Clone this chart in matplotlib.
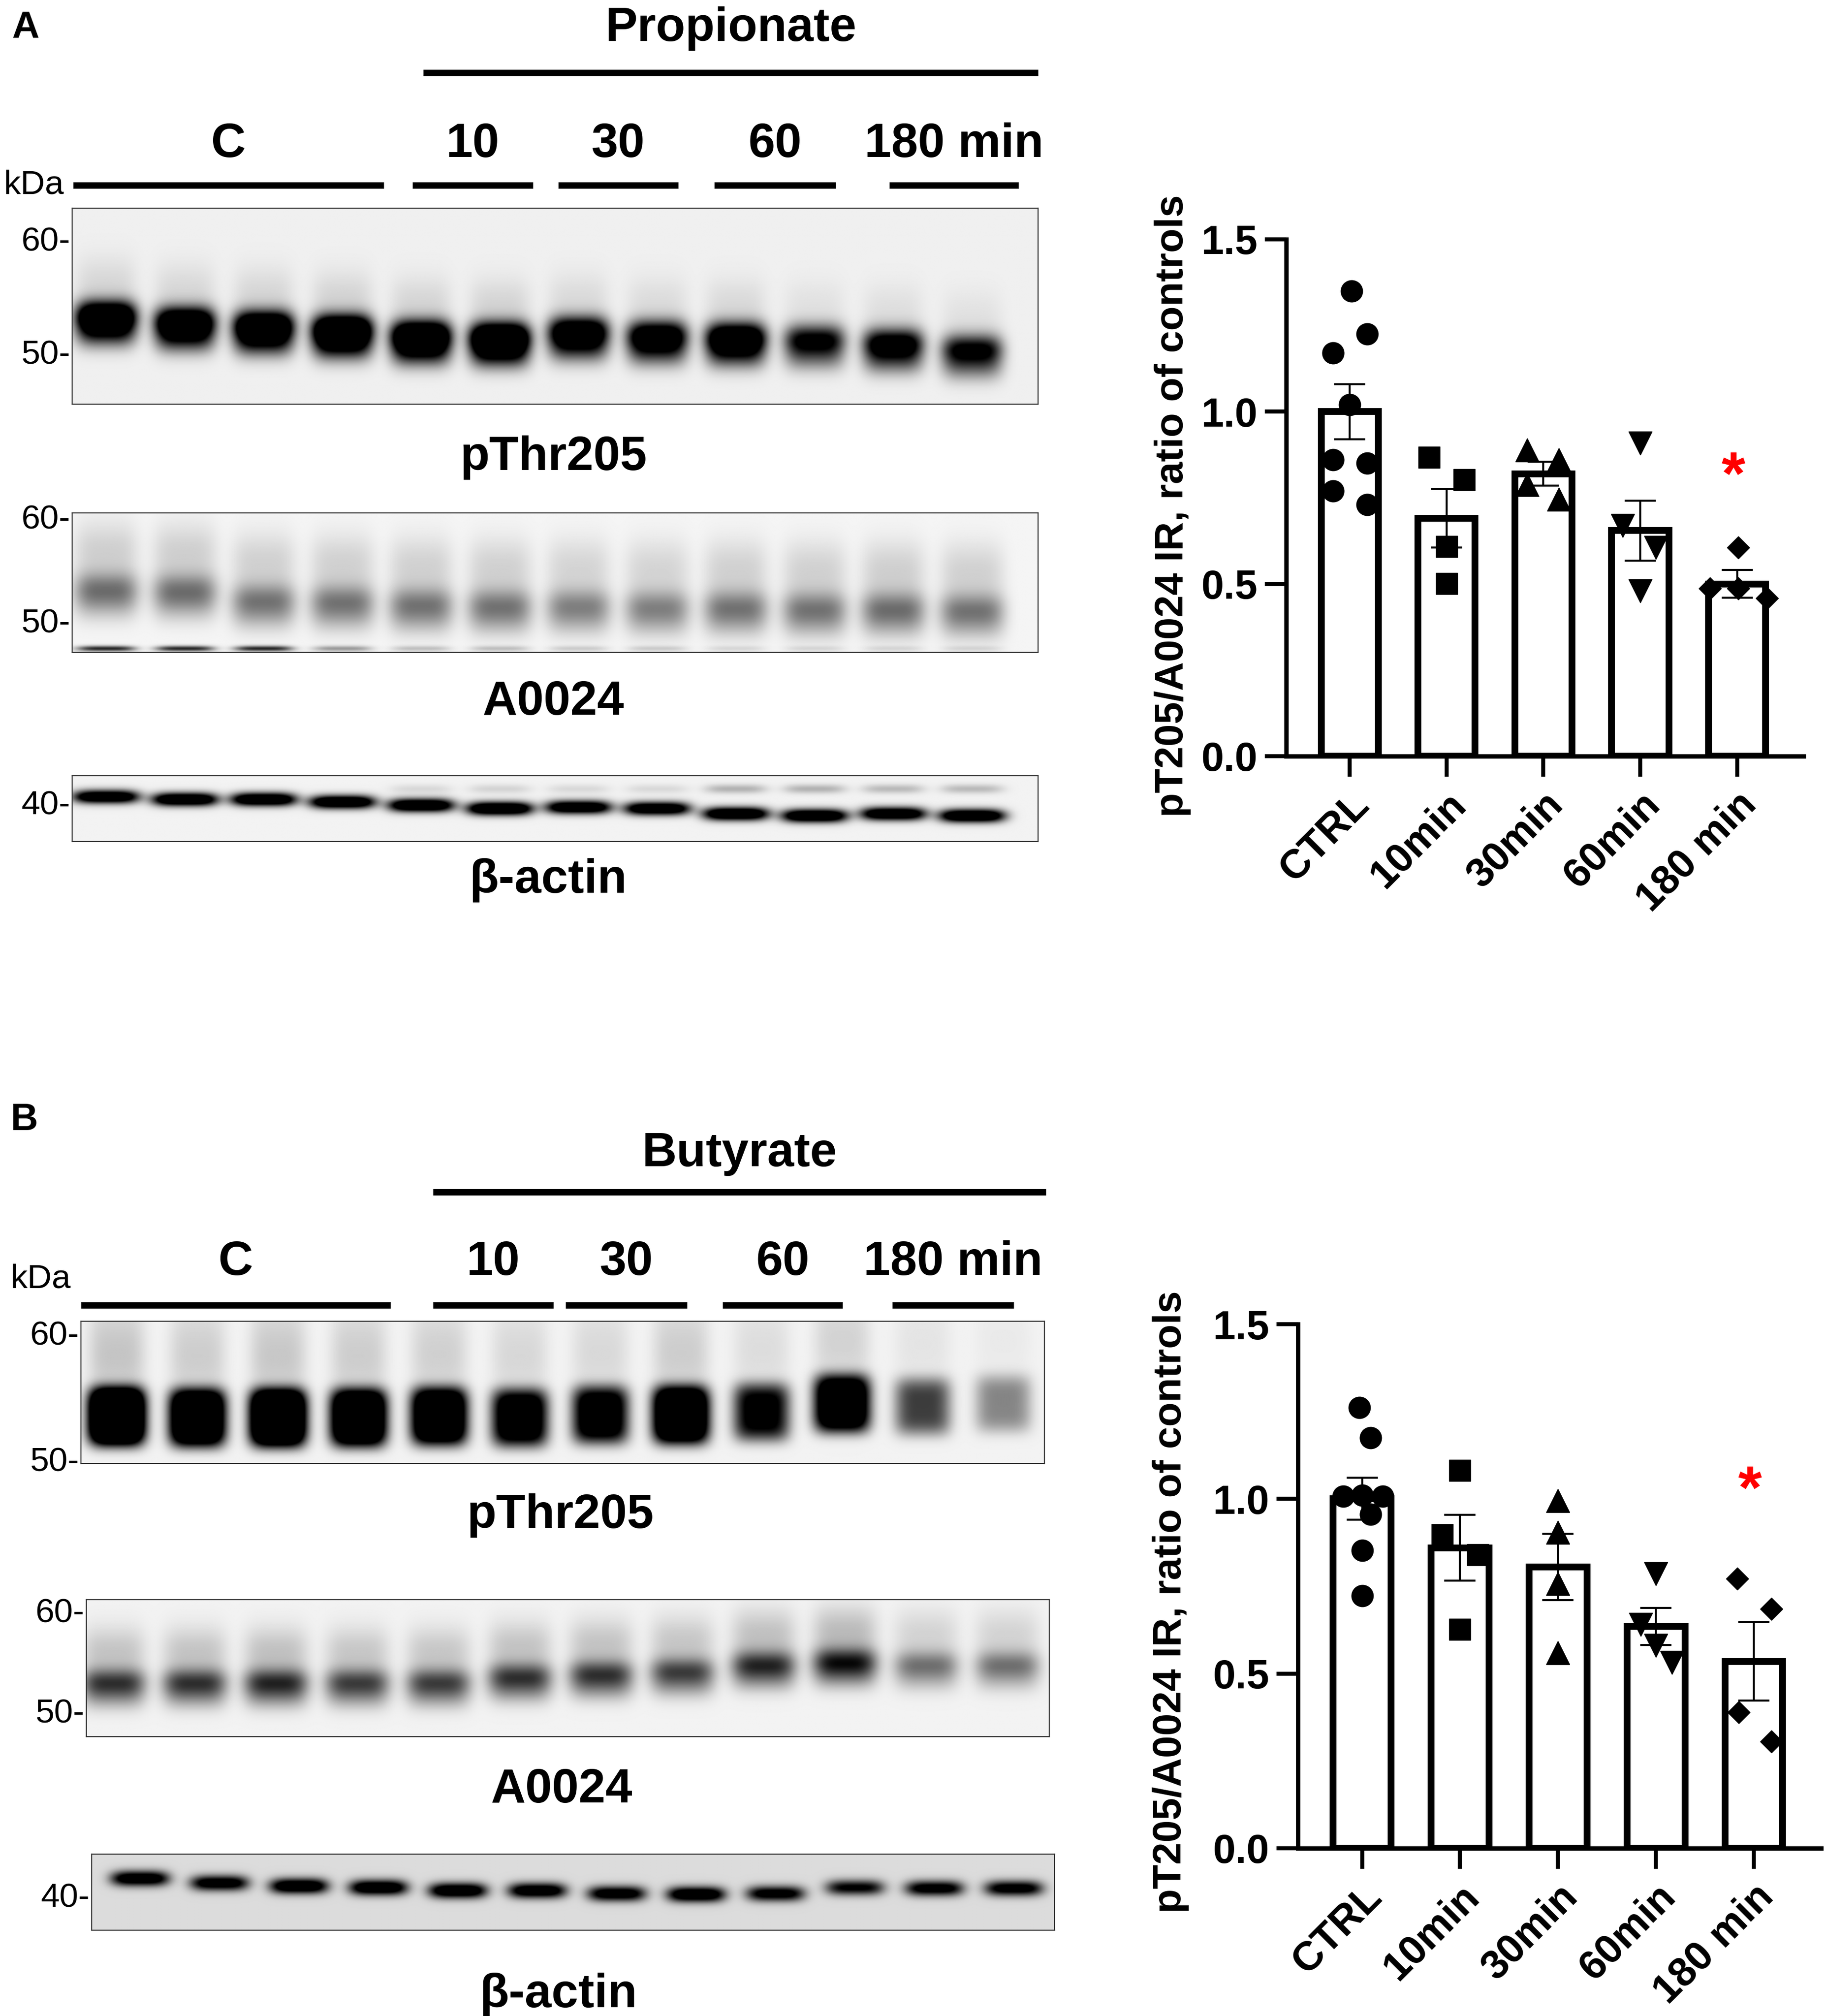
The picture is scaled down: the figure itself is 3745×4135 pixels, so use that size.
import numpy as np
import matplotlib.pyplot as plt
from matplotlib.transforms import ScaledTranslation

plt.rcParams['font.family'] = ['Liberation Sans', 'DejaVu Sans']

W, H = 3745, 4135

# ---- bar chart values (ratio of controls) ----
groups = ['CTRL', '10min', '30min', '60min', '180 min']

prop_mean = [1.0, 0.69, 0.82, 0.655, 0.50]
prop_sem = [0.08, 0.085, 0.035, 0.087, 0.04]
prop_pts = [[1.35, 1.225, 1.17, 1.02, 0.86, 0.85, 0.77, 0.73],
            [0.868, 0.803, 0.609, 0.501],
            [0.889, 0.861, 0.788, 0.746],
            [0.908, 0.669, 0.606, 0.48],
            [0.606, 0.487, 0.487, 0.459]]
prop_jit = [[0.02, 0.18, -0.17, 0.0, -0.17, 0.18, -0.17, 0.18],
            [-0.18, 0.18, 0.0, 0.0],
            [-0.17, 0.16, -0.17, 0.16],
            [0.0, -0.18, 0.16, 0.0],
            [0.01, -0.28, 0.01, 0.31]]
prop_star = 0.837

but_mean = [1.0, 0.86, 0.805, 0.635, 0.535]
but_sem = [0.06, 0.094, 0.095, 0.053, 0.112]
but_pts = [[1.262, 1.175, 1.008, 1.01, 1.008, 0.956, 0.853, 0.723],
           [1.082, 0.897, 0.84, 0.627],
           [0.995, 0.904, 0.758, 0.559],
           [0.785, 0.64, 0.58, 0.532],
           [0.771, 0.685, 0.39, 0.305]]
but_jit = [[-0.03, 0.085, -0.19, 0.0, 0.21, 0.085, 0.0, 0.0],
           [0.0, -0.18, 0.18, 0.0],
           [0.0, 0.0, 0.0, 0.0],
           [0.0, -0.155, 0.0, 0.165],
           [-0.17, 0.18, -0.155, 0.18]]
but_star = 1.048

# ---- western blot lanes (band strength and band centre, fraction of box from top) ----
lane_groups = ['C', '10', '30', '60', '180 min']

a_pthr_amp = [1.0, 0.95, 1.0, 1.1, 1.05, 1.1, 0.85, 0.8, 0.9, 0.6, 0.7, 0.6]
a_pthr_pos = [0.55, 0.58, 0.60, 0.62, 0.65, 0.66, 0.63, 0.65, 0.66, 0.67, 0.69, 0.72]
a_a0024_amp = [0.42, 0.42, 0.4, 0.4, 0.4, 0.4, 0.36, 0.36, 0.4, 0.4, 0.42, 0.4]
a_a0024_pos = [0.54, 0.55, 0.62, 0.63, 0.65, 0.66, 0.66, 0.67, 0.67, 0.68, 0.68, 0.69]
a_a0024_low = [0.8, 0.8, 0.8, 0.35, 0.2, 0.2, 0.15, 0.15, 0.1, 0.1, 0.1, 0.1]
a_actin_amp = [0.95, 1.0, 1.0, 1.0, 1.0, 1.05, 0.95, 0.95, 1.0, 1.0, 0.95, 1.0]
a_actin_pos = [0.32, 0.36, 0.36, 0.40, 0.45, 0.50, 0.48, 0.50, 0.58, 0.61, 0.58, 0.61]
a_actin_up = [0.0, 0.0, 0.0, 0.0, 0.1, 0.12, 0.1, 0.1, 0.25, 0.25, 0.22, 0.22]

b_pthr_amp = [1.6, 1.3, 1.5, 1.3, 1.2, 0.95, 0.9, 1.3, 0.75, 1.1, 0.5, 0.3]
b_pthr_pos = [0.67, 0.68, 0.68, 0.68, 0.67, 0.68, 0.66, 0.66, 0.64, 0.58, 0.60, 0.58]
b_a0024_amp = [0.75, 0.75, 0.8, 0.7, 0.7, 0.75, 0.75, 0.7, 0.8, 0.9, 0.5, 0.5]
b_a0024_pos = [0.60, 0.60, 0.60, 0.60, 0.60, 0.56, 0.54, 0.52, 0.47, 0.45, 0.47, 0.47]
b_actin_amp = [0.9, 0.85, 0.95, 0.95, 0.95, 0.9, 0.85, 0.95, 0.8, 0.7, 0.8, 0.8]
b_actin_pos = [0.32, 0.38, 0.42, 0.44, 0.48, 0.48, 0.52, 0.53, 0.52, 0.44, 0.45, 0.45]

fig = plt.figure(figsize=(W / 100, H / 100), dpi=100)

ov = fig.add_axes([0, 0, 1, 1])
ov.set_xlim(0, W)
ov.set_ylim(H, 0)
ov.axis('off')


def box(x0, x1, y0, y1):
    return [x0 / W, 1 - y1 / H, (x1 - x0) / W, (y1 - y0) / H]


def bands(amps, centers, first, step, hw, hh, tail=0.0, tail_dy=0.0, smear=0.0, flat=2):
    xx = np.linspace(0, 1, 1400)[None, :]
    yy = np.linspace(0, 1, 260)[:, None]
    img = np.zeros((260, 1400))
    for i, (a, yc) in enumerate(zip(amps, centers)):
        xc = first + step * i
        px = np.exp(-np.abs((xx - xc) / hw) ** 4)
        py = np.exp(-np.abs((yy - yc) / hh) ** flat)
        py = py + tail * np.exp(-((yy - yc - tail_dy) / hh) ** 2)
        py = py + smear * np.exp(-((yy - yc + 2.2 * hh) / (1.8 * hh)) ** 2)
        img += a * px * py
    return img


def blot(rect, img, bg, ticks):
    ax = fig.add_axes(box(*rect))
    ax.imshow(np.clip(bg + img, 0, 1), cmap='gray_r', vmin=0, vmax=1,
              extent=(0, 1, 1, 0), aspect='auto', interpolation='bilinear')
    ax.set_xticks([])
    ax.set_yticks([])
    for s in ax.spines.values():
        s.set_linewidth(1.6)
        s.set_color('#333333')
    # tick positions are given from the top of the box
    for lab, fy in ticks:
        ax.text(-0.002, 1 - fy, lab + '-', transform=ax.transAxes, ha='right',
                va='center', fontsize=50)
    return ax


def header(title, title_y, title_line, label_y, spans, line_y, kda_xy, letter, letter_xy):
    ov.text(letter_xy[0], letter_xy[1], letter, fontsize=56, fontweight='bold',
            ha='center', va='center')
    ov.text((title_line[0] + title_line[1]) / 2, title_y, title, fontsize=71,
            fontweight='bold', ha='center', va='baseline')
    ov.plot(title_line[:2], [title_line[2]] * 2, color='black', lw=9.5,
            solid_capstyle='butt')
    for lab, (x0, x1) in zip(lane_groups, spans):
        ov.text((x0 + x1) / 2, label_y, lab, fontsize=71, fontweight='bold',
                ha='center', va='baseline')
        ov.plot([x0, x1], [line_y, line_y], color='black', lw=9.5, solid_capstyle='butt')
    ov.text(kda_xy[0], kda_xy[1], 'kDa', fontsize=50, ha='left', va='baseline')


def blot_name(x, y, name):
    ov.text(x, y, name, fontsize=71, fontweight='bold', ha='center', va='baseline')


# ---- panel A blots ----
header('Propionate', 84, (868, 2129, 149), 322,
       [(150, 787), (846, 1093), (1145, 1391), (1465, 1714), (1824, 2089)], 380,
       (7, 398), 'A', (52, 57))
blot((148, 2129, 427, 829),
     1.6 * bands(a_pthr_amp, a_pthr_pos, 0.035, 0.0815, 0.031, 0.075, tail=0.45,
                 tail_dy=0.09, smear=0.06),
     0.06, [('60', 0.174), ('50', 0.749)])
blot_name(1135, 964, 'pThr205')
blot((148, 2129, 1052, 1338),
     bands(a_a0024_amp, a_a0024_pos, 0.035, 0.0815, 0.033, 0.12, tail=0.5, tail_dy=0.12,
           smear=0.35)
     + bands(a_a0024_low, [0.975] * 12, 0.035, 0.0815, 0.03, 0.02),
     0.04, [('60', 0.052), ('50', 0.797)])
blot_name(1135, 1466, 'A0024')
blot((148, 2129, 1591, 1726),
     1.5 * bands(a_actin_amp, a_actin_pos, 0.035, 0.0815, 0.034, 0.1)
     + bands(a_actin_up, [0.2] * 12, 0.035, 0.0815, 0.032, 0.07),
     0.05, [('40', 0.452)])
blot_name(1124, 1831, 'β-actin')

# ---- panel B blots ----
header('Butyrate', 2392, (888, 2145, 2445), 2615,
       [(166, 801), (888, 1135), (1160, 1409), (1482, 1728), (1830, 2079)], 2677,
       (21, 2641), 'B', (50, 2297))
blot((166, 2142, 2710, 3002),
     1.4 * bands(b_pthr_amp, b_pthr_pos, 0.037, 0.0837, 0.029, 0.2, flat=4, smear=0.08),
     0.05, [('60', 0.106), ('50', 0.99)])
blot_name(1149, 3134, 'pThr205')
blot((177, 2152, 3281, 3562),
     0.85 * bands(b_a0024_amp, b_a0024_pos, 0.028, 0.0844, 0.033, 0.1, tail=0.45,
                  tail_dy=0.11, smear=0.28),
     0.05, [('60', 0.1), ('50', 0.836)])
blot_name(1152, 3697, 'A0024')
blot((188, 2163, 3803, 3959),
     1.3 * bands(b_actin_amp, b_actin_pos, 0.05, 0.0825, 0.03, 0.1),
     0.14, [('40', 0.577)])
blot_name(1145, 4117, 'β-actin')

# ---- bar charts ----
markers = ['o', 's', '^', 'v', 'D']
msizes = [32, 32, 35, 35, 23]


def bar_panel(rect, means, sems, pts, jit, star, ylab_xy):
    ax = fig.add_axes(box(*rect))
    x = np.arange(len(groups))
    ax.bar(x, means, width=0.59, color='white', edgecolor='black', linewidth=10,
           zorder=2)
    for i in range(len(groups)):
        ax.plot(i + np.array(jit[i]), pts[i], linestyle='none', marker=markers[i],
                markersize=msizes[i], color='black', zorder=3, clip_on=False)
    ax.errorbar(x, means, yerr=sems, fmt='none', ecolor='black', elinewidth=3,
                capsize=23, capthick=3, zorder=4)
    ax.annotate('*', (4 - 0.04, star), xytext=(0, -39), textcoords='offset points',
                color='#ff0000', fontsize=90, fontweight='bold', ha='center',
                va='baseline')
    ax.set_xlim(-0.655, 4.686)
    ax.set_ylim(0, 1.5)
    ax.set_yticks([0, 0.5, 1.0, 1.5])
    ax.set_yticklabels(['0.0', '0.5', '1.0', '1.5'])
    ax.set_xticks(x)
    ax.set_xticklabels(groups, rotation=45, ha='right', va='top',
                       rotation_mode='anchor')
    shift = ScaledTranslation(-5 / 72, 0, fig.dpi_scale_trans)
    for t in ax.get_xticklabels():
        t.set_transform(t.get_transform() + shift)
    for s in ['top', 'right']:
        ax.spines[s].set_visible(False)
    for s in ['left', 'bottom']:
        ax.spines[s].set_linewidth(6.5)
    ax.tick_params(axis='y', length=32, width=6, pad=10, labelsize=60)
    ax.tick_params(axis='x', length=30, width=6, pad=13, labelsize=60)
    for t in ax.get_xticklabels() + ax.get_yticklabels():
        t.set_fontweight('bold')
    ax.patch.set_alpha(0)
    ov.text(ylab_xy[0], ylab_xy[1], 'pT205/A0024 IR, ratio of controls', rotation=90,
            fontsize=59, fontweight='bold', ha='center', va='center')


bar_panel((2638, 3699, 491, 1551), prop_mean, prop_sem, prop_pts, prop_jit, prop_star,
          (2405, 1038))
bar_panel((2662, 3735, 2716, 3791), but_mean, but_sem, but_pts, but_jit, but_star,
          (2401, 3286))

fig.savefig('out.png', dpi=100)
